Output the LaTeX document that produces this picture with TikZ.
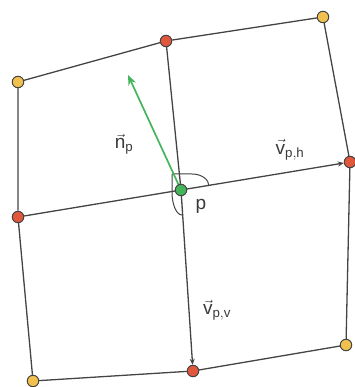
\documentclass[tikz,border=0pt]{standalone}
\usepackage{fontspec}
\setmainfont{Liberation Sans}
\usetikzlibrary{arrows.meta}
\definecolor{ptred}{HTML}{E0573C}
\definecolor{ptyellow}{HTML}{F1C04F}
\definecolor{ptgreen}{HTML}{45B55C}
\definecolor{edgegray}{HTML}{444444}
\definecolor{labgray}{HTML}{3A3A3A}
\begin{document}
\begin{tikzpicture}
[
	x=1pt,y=1pt,
	vtx/.style={circle,draw=edgegray,line width=1pt,inner sep=0pt,minimum size=11.5pt},
	redpt/.style={vtx,fill=ptred},
	yellowpt/.style={vtx,fill=ptyellow},
	greenpt/.style={vtx,fill=ptgreen},
	edge/.style={edgegray,line width=1.3pt},
	vecarrow/.style={edge,-{Stealth[length=6pt,width=5pt]}},
	lab/.style={labgray,font=\fontsize{19}{22}\selectfont}
]

	\useasboundingbox (0,0) rectangle (354,387);

	\node[yellowpt] at (18,305) (tl) {};
	\node[redpt] at (166,346) (tm) {};
	\node[yellowpt] at (323,370) (tr) {};
	\node[redpt] at (18,170) (ml) {};
	\node[redpt] at (350,225) (mr) {};
	\node[yellowpt] at (33,6) (bl) {};
	\node[redpt] at (193,16) (bm) {};
	\node[yellowpt] at (346,42) (br) {};
	\coordinate (nt) at (128,312);

	\draw[edge] (tl) -- (tm) -- (tr) -- (mr) -- (br) -- (bm) -- (bl) -- (ml) -- (tl);
	\draw[edge] (tm) -- (181,197) -- (ml);
	\draw[vecarrow] (181,197) -- (mr);
	\draw[vecarrow] (181,197) -- (bm);

	\draw[edge,line width=1pt] (172,213) -- ++(20,0) arc[start angle=90,end angle=0,x radius=17,y radius=12];
	\draw[edge,line width=1pt] (172,213) -- ++(0,-18) arc[start angle=180,end angle=270,x radius=10,y radius=23];

	\draw[ptgreen,line width=1.7pt,-{Stealth[length=10pt,width=8pt]}] (181,197) -- (nt);
	\node[greenpt] at (181,197) (p) {};

	\node[lab] at (124,243) (nlab) {$\vec{\mathrm{n}}_{\mathrm{p}}$};
	\node[lab] at (290,237) (hlab) {$\vec{\mathrm{v}}_{\mathrm{p,h}}$};
	\node[lab] at (201,181) (plab) {p};
	\node[lab] at (217,77) (vlab) {$\vec{\mathrm{v}}_{\mathrm{p,v}}$};

\end{tikzpicture}
\end{document}
